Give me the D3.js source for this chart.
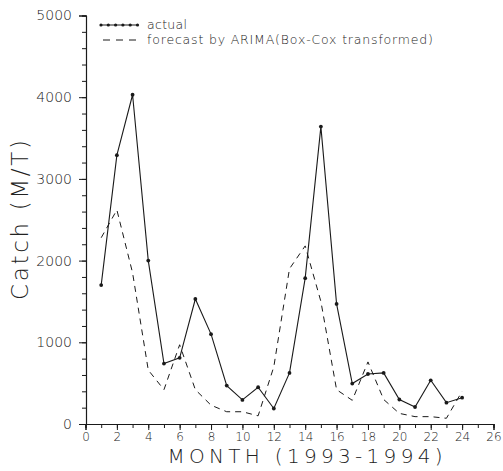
<!DOCTYPE html>
<html>
<head>
<meta charset="utf-8">
<script src="https://cdn.jsdelivr.net/npm/d3@7"></script>
<style>
  html, body { margin: 0; padding: 0; background: #fff; }
  svg { display: block; }
  text { font-family: "DejaVu Sans", sans-serif; font-weight: 300; fill: #222; }
</style>
</head>
<body>
<svg id="chart" width="503" height="471"></svg>
<script>
// Monthly catch (M/T), 1993-1994
const months = d3.range(1, 25);
const actual = [1700, 3290, 4030, 2000, 740, 810, 1530, 1100, 470, 295, 450, 190,
                625, 1785, 3640, 1470, 495, 612, 625, 300, 208, 535, 261, 322];
const forecast = [2280, 2620, 1850, 660, 420, 970, 420, 230, 150, 150, 100, 700,
                  1900, 2180, 1500, 420, 290, 760, 300, 130, 90, 90, 70, 400];
const xMajorTicks = d3.range(0, 27, 2);
const xMinorTicks = d3.range(0, 27, 1);
const yMajorTicks = [0, 1000, 2000, 3000, 4000, 5000];
const yMinorTicks = d3.range(0, 5001, 200);
const seriesNames = ["actual", "forecast by ARIMA(Box-Cox transformed)"];

const svg = d3.select("#chart");
const x = d3.scaleLinear().domain([0, 26]).range([85.5, 493.5]);
const y = d3.scaleLinear().domain([0, 5000]).range([424, 15.5]);

const ink = "#1a1a1a";

// axes: minor ticks first, then labelled major ticks
function styleAxis(g) {
  g.select(".domain").attr("stroke", ink).attr("stroke-width", 1.1);
  g.selectAll(".tick line").attr("stroke", ink).attr("stroke-width", 1);
}

svg.append("g").attr("transform", "translate(0,424)")
  .call(d3.axisBottom(x).tickValues(xMinorTicks).tickSize(4).tickFormat(""))
  .call(styleAxis);
const gx = svg.append("g").attr("transform", "translate(0,424)")
  .call(d3.axisBottom(x).tickValues(xMajorTicks).tickSize(6).tickPadding(2).tickFormat(d3.format("d")))
  .call(styleAxis);
gx.selectAll(".tick text").attr("font-size", 12).attr("font-family", "DejaVu Sans Condensed, DejaVu Sans, sans-serif").attr("fill", "#222");

svg.append("g").attr("transform", "translate(86,0)")
  .call(d3.axisLeft(y).tickValues(yMinorTicks).tickSize(4).tickFormat(""))
  .call(styleAxis);
const gy = svg.append("g").attr("transform", "translate(86,0)")
  .call(d3.axisLeft(y).tickValues(yMajorTicks).tickSize(7).tickPadding(7).tickFormat(d3.format("d")))
  .call(styleAxis);
gy.selectAll(".tick text").attr("font-size", 14).attr("fill", "#222");

// axis titles
svg.append("text")
  .attr("x", 305).attr("y", 463)
  .attr("text-anchor", "middle")
  .attr("font-size", 20)
  .attr("textLength", 275).attr("lengthAdjust", "spacing")
  .text("MONTH (1993-1994)");

svg.append("text")
  .attr("transform", "translate(28,220) rotate(-90)")
  .attr("text-anchor", "middle")
  .attr("font-size", 23)
  .attr("textLength", 160).attr("lengthAdjust", "spacing")
  .text("Catch (M/T)");

// series
const line = d3.line().x(d => x(d[0])).y(d => y(d[1]));
const actualPts = months.map((m, i) => [m, actual[i]]);
const forecastPts = months.map((m, i) => [m, forecast[i]]);

svg.append("path").datum(forecastPts)
  .attr("d", line).attr("fill", "none")
  .attr("stroke", ink).attr("stroke-width", 1)
  .attr("stroke-dasharray", "6,5");

svg.append("path").datum(actualPts)
  .attr("d", line).attr("fill", "none")
  .attr("stroke", ink).attr("stroke-width", 1.1);

svg.append("g").selectAll("circle").data(actualPts).join("circle")
  .attr("cx", d => x(d[0])).attr("cy", d => y(d[1]))
  .attr("r", 1.9).attr("fill", ink);

// legend
const lg = svg.append("g");
lg.append("line").attr("x1", 100).attr("x2", 138).attr("y1", 25).attr("y2", 25)
  .attr("stroke", ink).attr("stroke-width", 1.2);
lg.selectAll("circle").data(d3.range(6)).join("circle")
  .attr("cx", d => 101 + d * 7.3).attr("cy", 25).attr("r", 1.6).attr("fill", ink);
lg.append("line").attr("x1", 103).attr("x2", 138).attr("y1", 40).attr("y2", 40)
  .attr("stroke", ink).attr("stroke-width", 1).attr("stroke-dasharray", "7,6");
lg.append("text").attr("x", 147).attr("y", 29).attr("font-size", 12.5)
  .attr("textLength", 40).attr("lengthAdjust", "spacing").text(seriesNames[0]);
lg.append("text").attr("x", 147).attr("y", 43.5).attr("font-size", 12.5)
  .attr("textLength", 286).attr("lengthAdjust", "spacing").text(seriesNames[1]);
</script>
</body>
</html>
